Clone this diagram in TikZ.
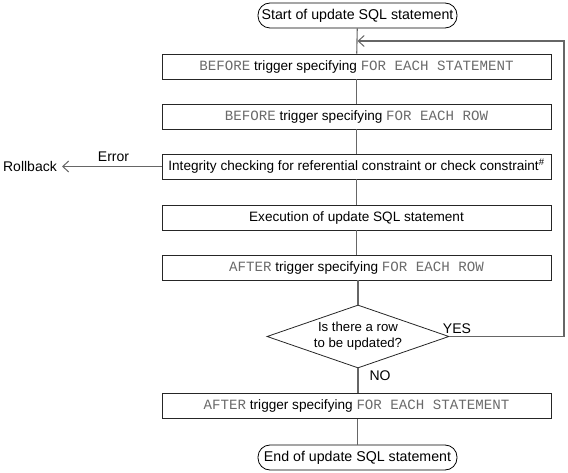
\documentclass[tikz,border=0pt]{standalone}
\usepackage{fontspec}
\setmainfont{Liberation Sans}
\setmonofont[Scale=1.04]{Liberation Mono}
\usetikzlibrary{arrows.meta,shapes.geometric}
\definecolor{linegray}{HTML}{666666}
\definecolor{codegray}{HTML}{6a6a6a}
\newcommand{\cd}[1]{{\ttfamily\color{codegray}#1}}
\tikzset{
  stepbox/.style={draw=black!85, line width=0.8pt, minimum width=389pt, minimum height=25pt, inner sep=0pt, font=\fontsize{13.6}{15}\selectfont},
  term/.style={draw=black, line width=0.8pt, rounded corners=12pt, minimum width=199pt, minimum height=25pt, inner sep=0pt, font=\fontsize{14.2}{16}\selectfont},
  conn/.style={draw=linegray, line width=1.1pt},
  tip/.style={-{Straight Barb[length=6pt,width=11pt,line width=1pt]}},
  lbl/.style={font=\fontsize{14}{16}\selectfont, inner sep=0pt}
}
\begin{document}
\begin{tikzpicture}[x=1pt,y=-1pt]
\useasboundingbox (0,0) rectangle (568,473);
\node[term] (start) at (357.5,15.5) {Start of update SQL statement};
\node[stepbox] (b1) at (356.5,66.5) {\cd{BEFORE} trigger specifying \cd{FOR EACH STATEMENT}};
\node[stepbox] (b2) at (356.5,116.5) {\cd{BEFORE} trigger specifying \cd{FOR EACH ROW}};
\node[stepbox] (b3) at (356.5,166.5) {Integrity checking for referential constraint or check constraint\textsuperscript{\#}};
\node[stepbox] (b4) at (356.5,217.5) {Execution of update SQL statement};
\node[stepbox] (b5) at (356.5,267.5) {\cd{AFTER} trigger specifying \cd{FOR EACH ROW}};
\node[diamond, aspect=2.89, draw=black!85, line width=0.8pt, minimum width=182pt, minimum height=63pt, inner sep=0pt, align=center, font=\fontsize{13.2}{16}\selectfont] (dia) at (358,336.5) {Is there a row\\to be updated?};
\node[stepbox] (b6) at (356.5,406) {\cd{AFTER} trigger specifying \cd{FOR EACH STATEMENT}};
\node[term] (end) at (357.5,457.5) {End of update SQL statement};
\coordinate (loopin) at (357.5,41);
\coordinate (loopr) at (564,41);
\coordinate (rb) at (62,166.5);
\draw[conn] (start) -- (b1);
\draw[conn] (b1) -- (b2);
\draw[conn] (b2) -- (b3);
\draw[conn] (b3) -- (b4);
\draw[conn] (b4) -- (b5);
\draw[conn] (b5.south -| dia.north) -- (dia.north);
\draw[conn] (dia.south) -- (dia.south |- b6.north);
\draw[conn] (b6.south -| end.north) -- (end.north);
\draw[conn,tip] (dia.east) -- (dia.east -| loopr) -- (loopr) -- (loopin);
\draw[conn,tip] (b3.west) -- (rb);
\node[lbl, anchor=east] (rollback) at (57,166.5) {Rollback};
\node[lbl] (error) at (113.5,157) {Error};
\node[lbl] (yes) at (457,328.5) {YES};
\node[lbl] (no) at (380,376) {NO};
\end{tikzpicture}
\end{document}
